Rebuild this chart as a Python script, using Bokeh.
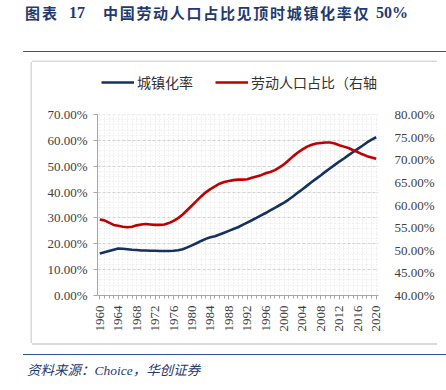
from bokeh.plotting import figure
from bokeh.models import (Range1d, LinearAxis, FixedTicker, Legend, LegendItem, Div,
                          BoxAnnotation)
from bokeh.layouts import column
from bokeh.embed import file_html
from bokeh.resources import INLINE
from math import pi

# ---------------- data ----------------
years = list(range(1960, 2021))
urbanization = [16.2, 16.7, 17.2, 17.7, 18.2, 18.1, 17.9, 17.7, 17.6, 17.4,
                17.4, 17.3, 17.3, 17.2, 17.2, 17.2, 17.3, 17.5, 17.9, 18.6,
                19.4, 20.2, 21.1, 21.9, 22.5, 22.9, 23.6, 24.3, 25.0, 25.7,
                26.4, 27.3, 28.2, 29.1, 30.0, 31.0, 31.9, 32.9, 33.9, 34.9,
                35.9, 37.1, 38.4, 39.8, 41.1, 42.5, 43.9, 45.2, 46.5, 47.9,
                49.2, 50.5, 51.8, 53.0, 54.3, 55.5, 56.7, 57.9, 59.2, 60.3,
                61.2]
labor_share = [56.8, 56.6, 56.1, 55.6, 55.4, 55.2, 55.1, 55.2, 55.5, 55.7,
               55.8, 55.7, 55.6, 55.6, 55.7, 56.0, 56.5, 57.1, 57.9, 58.9,
               59.9, 60.9, 61.9, 62.8, 63.5, 64.1, 64.7, 65.1, 65.3, 65.5,
               65.6, 65.6, 65.7, 66.0, 66.3, 66.6, 67.0, 67.3, 67.7, 68.3,
               69.0, 69.9, 70.8, 71.6, 72.3, 72.9, 73.3, 73.6, 73.7, 73.8,
               73.8, 73.6, 73.2, 72.9, 72.6, 72.1, 71.7, 71.2, 70.8, 70.5,
               70.2]
x_ticks = list(range(1960, 2021, 4))
left_ticks = [0, 10, 20, 30, 40, 50, 60, 70]
left_tick_labels = ["0.00%", "10.00%", "20.00%", "30.00%", "40.00%", "50.00%", "60.00%", "70.00%"]
right_ticks = [40, 45, 50, 55, 60, 65, 70, 75, 80]
right_tick_labels = ["40.00%", "45.00%", "50.00%", "55.00%", "60.00%", "65.00%", "70.00%", "75.00%", "80.00%"]
series_names = ["城镇化率", "劳动人口占比（右轴"]
title_main = "中国劳动人口占比见顶时城镇化率仅"
title_suffix = "50%"
source_text = "资料来源：Choice，华创证券"

NAVY = "#15325f"
RED = "#c00000"
TITLE_BLUE = "#1f3a70"
RULE_BLUE = "#2b5797"
TICK_FONT = "Liberation Serif"
CJK = "Noto Sans CJK SC"

# ---------------- title ----------------
title_html = (
    f'<div style="position:relative;height:16px;margin-top:5px;white-space:nowrap;color:{TITLE_BLUE};'
    f'font-weight:bold;font-size:15px;line-height:16px;">'
    f'<span style="position:absolute;left:2px;top:0;font-family:\'{CJK}\';letter-spacing:2px;">图表</span>'
    f'<span style="position:absolute;left:46px;top:0;font-family:\'Liberation Serif\';font-size:16px;">17</span>'
    f'<span style="position:absolute;left:80px;top:0;font-family:\'{CJK}\';letter-spacing:1.7px;">{title_main}</span>'
    f'<span style="position:absolute;left:353px;top:0;font-family:\'Liberation Serif\';font-size:16px;">{title_suffix}</span>'
    f'</div>'
)
title_div = Div(text=title_html, width=423, height=52, margin=(0, 0, 0, 23),
                styles={"border-bottom": f"1.5px solid {RULE_BLUE}", "flex-shrink": "0"})

# ---------------- chart ----------------
FIG_W, FIG_H = 405, 281
BORDER_L, BORDER_R, BORDER_T, BORDER_B = 65, 55, 0, 48
PLOT_PX = 181                      # height of the 0-70% band
frame_px = FIG_H - BORDER_T - BORDER_B
stretch = frame_px / PLOT_PX       # extra room above the data band for the legend

p = figure(width=FIG_W, height=FIG_H, output_backend="svg", toolbar_location=None,
           x_range=Range1d(1959.5, 2020.5), y_range=Range1d(0, 70 * stretch),
           min_border_left=BORDER_L, min_border_right=BORDER_R,
           min_border_top=BORDER_T, min_border_bottom=BORDER_B,
           margin=(10, 0, 0, 32),
           styles={"box-shadow": "-1.5px 0 0 0 #d9d9d9, 0 -1.5px 0 0 #d9d9d9, 0 2px 0 0 #d9d9d9",
                   "flex-shrink": "0"})
p.extra_y_ranges = {"r": Range1d(40, 40 + 40 * stretch)}
p.outline_line_color = None
p.background_fill_color = "white"
p.border_fill_color = "white"

# grids
p.xgrid.ticker = FixedTicker(ticks=years)
p.xgrid.grid_line_color = "#e3e3e3"
p.xgrid.grid_line_dash = "1 2"
p.ygrid.ticker = FixedTicker(ticks=left_ticks, minor_ticks=list(range(0, 71, 2)))
p.ygrid.grid_line_color = "#d4d4d4"
p.ygrid.grid_line_dash = "3 2"
p.ygrid.minor_grid_line_color = "#e6e6e6"
p.ygrid.minor_grid_line_dash = "1 2"

# blank out grid above the data band (legend area)
p.add_layout(BoxAnnotation(bottom=70, fill_color="white", fill_alpha=1,
                           line_color=None, level="underlay"))

# x axis
xa = p.xaxis[0]
xa.ticker = FixedTicker(ticks=x_ticks, minor_ticks=years)
xa.major_label_orientation = pi / 2
xa.major_label_overrides = {t: str(t) for t in x_ticks}
xa.axis_line_color = "#a6a6a6"
xa.major_tick_line_color = "#a6a6a6"
xa.minor_tick_line_color = "#a6a6a6"
xa.major_tick_in = 0
xa.major_tick_out = 4
xa.minor_tick_in = 0
xa.minor_tick_out = 3
xa.major_label_standoff = 6
xa.major_label_text_font = TICK_FONT
xa.major_label_text_font_size = "13px"
xa.major_label_text_color = "#404040"

# left axis
ya = p.yaxis[0]
ya.ticker = FixedTicker(ticks=left_ticks)
ya.bounds = (0, 70)
ya.major_label_overrides = dict(zip(left_ticks, left_tick_labels))
ya.axis_line_color = "#a6a6a6"
ya.major_tick_line_color = "#a6a6a6"
ya.minor_tick_line_color = None
ya.major_tick_in = 0
ya.major_tick_out = 4
ya.major_label_standoff = 6
ya.major_label_text_font = TICK_FONT
ya.major_label_text_font_size = "13px"
ya.major_label_text_color = "#404040"

# right axis
ra = LinearAxis(y_range_name="r", ticker=FixedTicker(ticks=right_ticks), bounds=(40, 80))
ra.major_label_overrides = dict(zip(right_ticks, right_tick_labels))
ra.axis_line_color = None
ra.major_tick_line_color = None
ra.minor_tick_line_color = None
ra.major_label_standoff = 10
ra.major_label_text_font = TICK_FONT
ra.major_label_text_font_size = "13px"
ra.major_label_text_color = "#404040"
p.add_layout(ra, "right")

r1 = p.line(years, urbanization, line_color=NAVY, line_width=2.6)
r2 = p.line(years, labor_share, line_color=RED, line_width=2.6, y_range_name="r")

legend = Legend(items=[LegendItem(label=series_names[0], renderers=[r1]),
                       LegendItem(label=series_names[1], renderers=[r2])],
                orientation="horizontal", location=(4, PLOT_PX + 22),
                glyph_width=33, glyph_height=16, label_height=16,
                label_standoff=3, spacing=22, padding=0, margin=0,
                border_line_color=None, background_fill_alpha=0,
                label_text_font=CJK, label_text_font_size="14px",
                label_text_color="#333333")
p.add_layout(legend, "center")

# ---------------- source ----------------
source_html = (
    f'<div style="color:{TITLE_BLUE};font-style:italic;font-size:13.5px;line-height:16px;'
    f'font-family:\'Liberation Serif\',\'{CJK}\';white-space:nowrap;padding-left:4px;'
    f'padding-top:8px;">{source_text}</div>'
)
source_div = Div(text=source_html, width=423, height=25, margin=(11, 0, 0, 23),
                 styles={"border-top": f"1.5px solid {RULE_BLUE}", "flex-shrink": "0"})

layout = column(title_div, p, source_div, spacing=0)
open("out.html", "w").write(file_html(layout, INLINE))
